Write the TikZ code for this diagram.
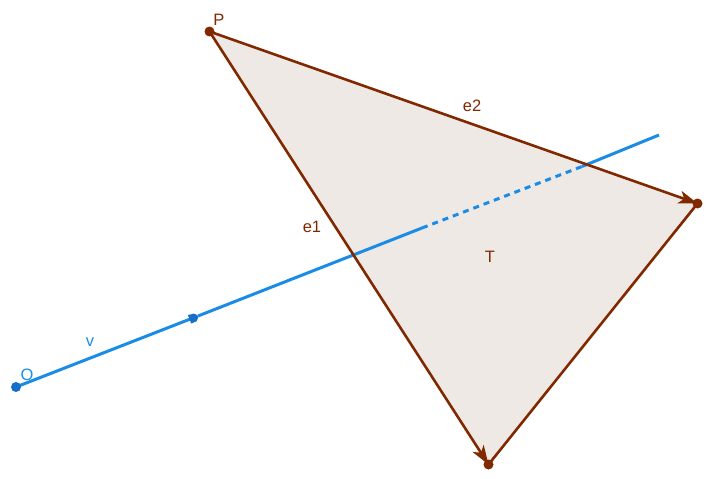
\documentclass[tikz,border=0pt]{standalone}
\usepackage{fontspec}
\setmainfont{Liberation Sans}
\usetikzlibrary{arrows.meta}
\definecolor{brn}{RGB}{128,40,0}
\definecolor{tfill}{RGB}{239,233,230}
\definecolor{lblue}{RGB}{26,140,230}
\definecolor{dblue}{RGB}{21,110,200}
\tikzset{
  edge/.style={draw=brn, line width=2.6pt},
  vec/.style={edge, -{Stealth[length=19pt,width=13pt,inset=5pt]}},
  bvec/.style={draw=lblue, line width=3pt, -{Stealth[length=12pt,width=12pt,inset=3pt,round,color=dblue]}},
  bline/.style={draw=lblue, line width=3pt},
  bdash/.style={bline, dash pattern=on 6pt off 5pt},
  bdot/.style={circle, fill=brn, inner sep=0pt, minimum size=10pt},
  odot/.style={circle, fill=dblue, inner sep=0pt, minimum size=10pt},
  vdot/.style={circle, fill=dblue, inner sep=0pt, minimum size=9pt},
  blab/.style={text=brn, font=\fontsize{16.5}{18}\selectfont, inner sep=0pt},
  llab/.style={text=lblue, font=\fontsize{16.5}{18}\selectfont, inner sep=0pt},
}
\begin{document}
\begin{tikzpicture}[x=1pt,y=-1pt]
\useasboundingbox (0,0) rectangle (713,479);
\coordinate (P) at (209.5,31.5);
\coordinate (B) at (697.5,203.5);
\coordinate (A) at (488.5,464.5);
\coordinate (O) at (16,387);
\coordinate (V) at (198,316);
\coordinate (D1) at (422,228);
\coordinate (D2) at (582,166.5);
\coordinate (E) at (659,135);
\fill[tfill] (P) -- (B) -- (A) -- cycle;
\draw[bline] (V) -- (D1);
\draw[bdash] (D1) -- (D2);
\draw[bline] (D2) -- (E);
\draw[bvec] (O) -- (V);
\node[vdot] (Vd) at (193.5,318) {};
\draw[edge] (B) -- (A);
\draw[vec] (P) -- (B);
\draw[vec] (P) -- (A);
\node[bdot] (Pd) at (P) {};
\node[bdot] (Bd) at (B) {};
\node[bdot] (Ad) at (A) {};
\node[odot] (Od) at (O) {};
\node[blab] (Pl) at (219,20) {P};
\node[blab] (e2l) at (472,106) {e2};
\node[blab] (e1l) at (312,227) {e1};
\node[blab] (Tl) at (490,257) {T};
\node[llab] (vl) at (90,342) {v};
\node[llab] (Ol) at (27,375) {O};
\end{tikzpicture}
\end{document}
